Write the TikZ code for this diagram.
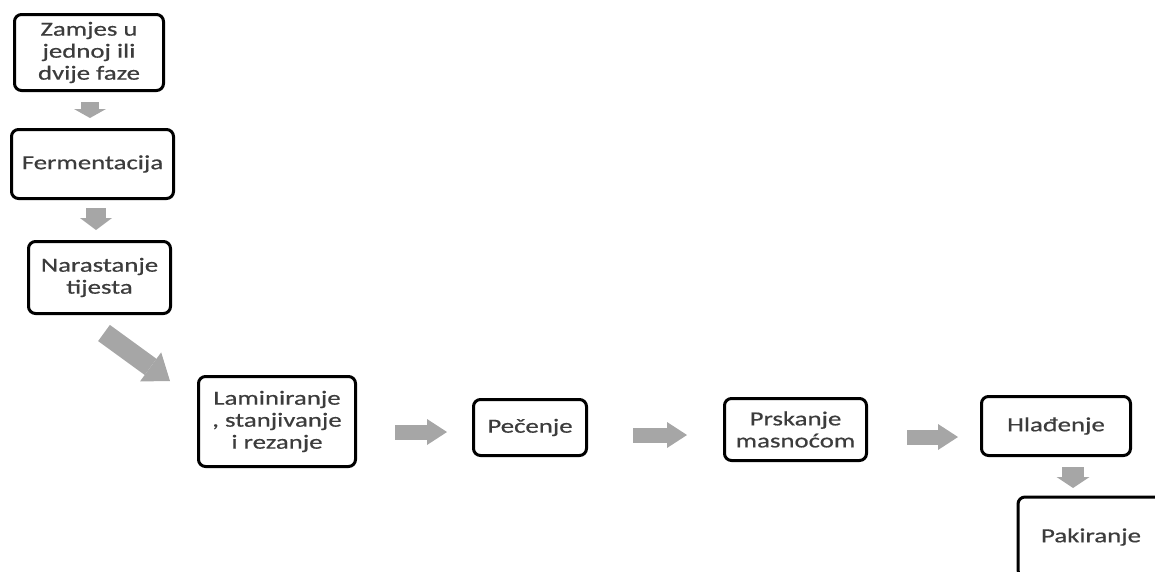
\documentclass[tikz,border=0pt]{standalone}
\usepackage{fontspec}
\setmainfont{Carlito}[FakeStretch=1.34, FakeBold=0.6]
\usetikzlibrary{arrows.meta}
\definecolor{txt}{HTML}{3C3C3C}
\definecolor{arr}{HTML}{A6A6A6}
\begin{document}
\begin{tikzpicture}[x=1pt,y=-1pt,
  box/.style={draw=black, line width=3pt, rounded corners=7pt, fill=white,
    align=center, text=txt, font=\fontsize{20}{22}\selectfont, inner sep=0pt},
  blk/.style n args={3}{draw=arr, line width=#1,
    -{Triangle[length=#3, width=#2, line width=0pt]}}]
\path[use as bounding box, clip] (0,0) rectangle (1155,571);

\node[box, minimum width=149pt, minimum height=76pt] (b1) at (89,52.5) {Zamjes u\\jednoj ili\\dvije faze};
\node[box, minimum width=162pt, minimum height=69pt] (b2) at (92.5,164) {Fermentacija};
\node[box, minimum width=142pt, minimum height=72pt] (b3) at (99.5,277.5) {Narastanje\\tijesta};
\node[box, minimum width=157pt, minimum height=90pt] (b4) at (277,421.5) {Laminiranje\\, stanjivanje\\i rezanje};
\node[box, minimum width=113pt, minimum height=56pt] (b5) at (530,427.5) {Pečenje};
\node[box, minimum width=142pt, minimum height=62pt] (b6) at (795.5,429.5) {Prskanje\\masnoćom};
\node[box, minimum width=149pt, minimum height=59pt] (b7) at (1056,426) {Hlađenje};
\node[box, minimum width=146pt, minimum height=80pt] (b8) at (1091,537) {Pakiranje};

\coordinate (a1s) at (90,102);  \coordinate (a1e) at (90,118);
\coordinate (a2s) at (96,208);  \coordinate (a2e) at (96,230);
\coordinate (a3s) at (104,333); \coordinate (a3e) at (170,381);
\coordinate (a4s) at (395,432); \coordinate (a4e) at (447,432);
\coordinate (a5s) at (633,435); \coordinate (a5e) at (687,435);
\coordinate (a6s) at (907,437); \coordinate (a6e) at (958,437);
\coordinate (a7s) at (1073,467); \coordinate (a7e) at (1073,488);

\draw[blk={18pt}{32pt}{9pt}] (a1s) -- (a1e);
\draw[blk={20pt}{32pt}{12pt}] (a2s) -- (a2e);
\draw[blk={20pt}{36pt}{24pt}] (a3s) -- (a3e);
\draw[blk={15pt}{26pt}{20pt}] (a4s) -- (a4e);
\draw[blk={15pt}{26pt}{20pt}] (a5s) -- (a5e);
\draw[blk={15pt}{26pt}{20pt}] (a6s) -- (a6e);
\draw[blk={22pt}{33pt}{11pt}] (a7s) -- (a7e);
\end{tikzpicture}
\end{document}
